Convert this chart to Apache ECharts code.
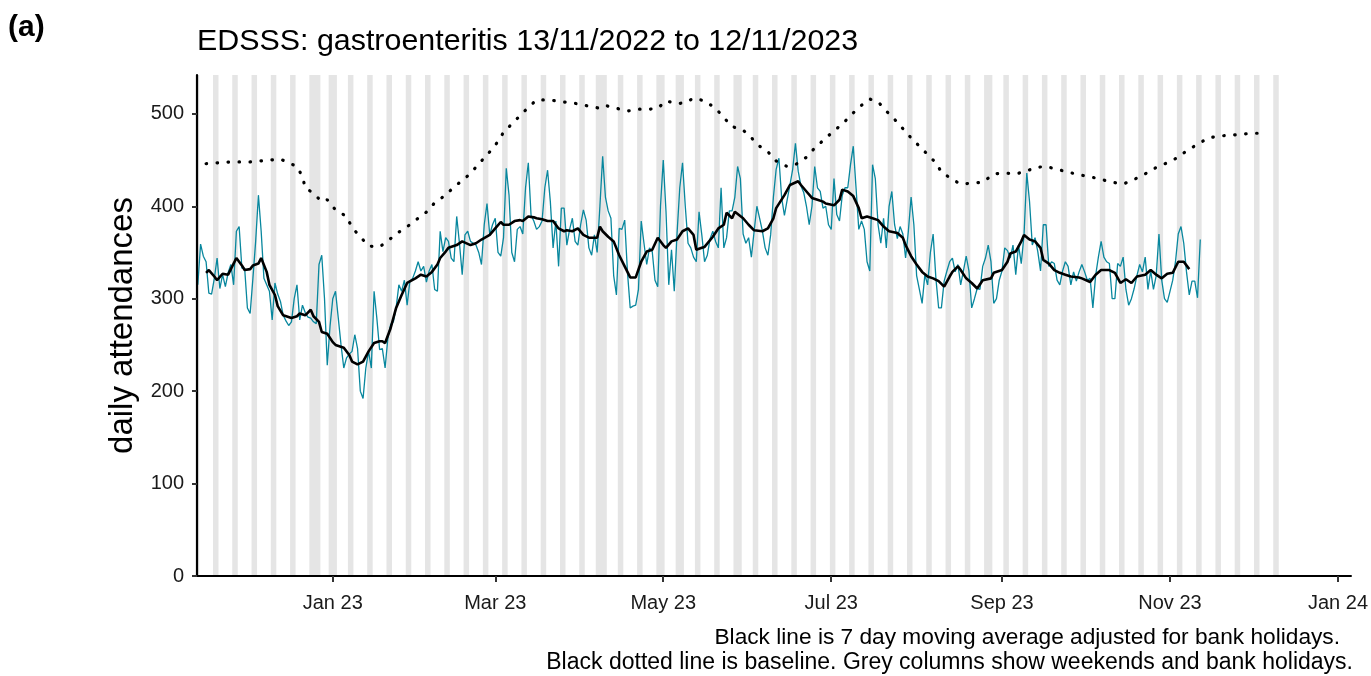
<!DOCTYPE html>
<html><head><meta charset="utf-8">
<script src="https://cdn.jsdelivr.net/npm/echarts@6/dist/echarts.min.js"></script>
<style>html,body{margin:0;padding:0;background:#fff}#c{width:1371px;height:676px}</style>
</head><body><div id="c"></div>
<script>
// ---- data ----
const startDate = '2022-11-13';
// daily attendances, one row per week (Sun..Sat) from 13/11/2022
const daily = [
 315,359,346,340,306,305,322,
 344,311,326,313,328,337,315,
 373,378,333,333,290,284,322,
 362,412,373,322,315,308,277,
 317,305,297,282,276,271,275,
 300,315,277,293,285,280,279,
 275,273,337,347,300,228,270,
 300,308,279,250,225,236,240,
 243,261,246,200,192,225,243,
 225,308,279,245,246,225,257,
 272,275,290,315,308,320,293,
 319,322,330,340,330,335,318,
 330,337,310,308,373,351,366,
 362,344,340,389,360,326,369,
 373,362,360,358,350,337,380,
 403,369,380,387,350,346,366,
 441,412,350,340,375,378,370,
 420,447,390,384,375,378,384,
 420,439,405,355,384,335,398,
 398,358,375,387,362,358,380,
 396,385,355,347,369,350,400,
 454,410,395,387,325,304,376,
 375,385,329,290,292,293,310,
 384,360,337,355,351,320,313,
 400,450,394,315,353,308,370,
 420,447,400,360,355,345,340,
 394,369,340,347,365,373,362,
 355,420,355,366,395,395,410,
 443,430,370,360,366,345,373,
 400,387,373,355,347,369,410,
 440,452,409,390,407,423,440,
 468,438,422,415,400,380,400,
 443,420,416,398,400,380,375,
 430,391,384,412,420,420,445,
 465,420,375,384,375,340,330,
 445,430,380,360,387,355,400,
 416,380,365,378,370,344,373,
 410,380,325,310,295,326,315,
 350,370,322,290,290,319,330,
 340,344,329,337,315,330,346,
 330,290,300,311,310,335,344,
 358,340,295,300,320,330,355,
 352,344,358,326,358,338,369,
 436,405,358,366,351,330,380,
 380,335,340,338,320,315,330,
 340,335,315,329,319,329,337,
 329,320,322,290,325,345,362,
 345,340,338,300,300,338,335,
 345,310,293,300,311,325,337,
 329,345,310,330,310,325,370,
 320,300,296,308,320,340,370,
 378,360,329,304,319,319,301,
 364
];
// 7 day moving average: [day offset from 01/01/2023, value]
const movingAverage = [
 [-46,328],[-45,331],[-43,324],[-42,320],[-40,327],[-38,326],[-36,338],[-35,344],[-33,336],[-32,331],
 [-30,332],[-29,336],[-27,338],[-26,344],[-24,329],[-23,315],[-21,304],[-20,292],[-18,282],[-15,279],
 [-13,281],[-12,284],[-10,282],[-8,288],[-7,281],[-5,275],[-4,264],[-2,262],[0,253],[1,250],
 [4,247],[6,239],[7,232],[9,229],[11,232],[13,243],[15,252],[17,254],[18,254],[19,252],
 [21,268],[23,290],[25,304],[27,317],[30,322],[32,326],[34,324],[36,329],[38,337],[39,344],
 [41,351],[42,355],[45,358],[47,362],[50,358],[52,360],[54,364],[57,369],[59,376],[61,383],
 [62,380],[64,380],[66,384],[68,385],[69,384],[71,389],[73,388],[74,387],[76,386],[78,384],
 [80,384],[82,376],[84,373],[85,374],[87,373],[89,376],[91,369],[93,366],[96,366],[97,378],
 [98,373],[100,367],[102,362],[104,347],[106,335],[108,323],[110,323],[112,340],[114,351],[116,353],
 [118,366],[120,358],[121,355],[123,362],[125,364],[127,373],[129,376],[131,369],[132,353],[134,355],
 [135,356],[138,367],[140,376],[142,380],[143,393],[145,387],[146,394],[149,387],[151,380],[153,374],
 [156,373],[158,376],[160,387],[161,398],[164,412],[166,423],[169,427],[170,423],[172,416],[174,409],
 [176,407],[178,405],[179,403],[182,401],[184,407],[185,418],[187,416],[189,411],[191,398],[192,387],
 [194,389],[196,387],[198,385],[200,378],[202,373],[205,371],[207,366],[208,358],[210,346],[212,337],
 [214,329],[216,324],[218,322],[220,319],[222,313],[224,324],[225,329],[227,335],[228,331],[230,322],
 [232,317],[234,311],[236,320],[239,322],[240,328],[243,331],[245,340],[246,349],[248,351],[250,362],
 [251,369],[253,364],[255,362],[257,355],[258,342],[260,338],[262,331],[264,328],[266,326],[268,324],
 [271,323],[272,322],[275,318],[277,326],[279,331],[282,331],[284,328],[286,317],[288,321],[290,317],
 [292,324],[295,326],[297,331],[299,326],[301,322],[303,327],[305,328],[307,340],[309,340],[311,332]
];
// baseline: [day offset from 01/01/2023, value]
const baseline = [
 [-46,446],[-37,448],[-30,448],[-19,451],[-13,443],[-11,432],[-10,420],[-7,414],[-4,405],[-2,407],
 [1,396],[5,389],[7,377],[10,367],[13,357],[17,356],[21,365],[24,372],[28,380],[31,387],
 [35,396],[37,404],[41,412],[44,421],[48,430],[51,439],[54,449],[57,459],[60,470],[62,480],
 [65,489],[68,498],[71,507],[74,515],[79,515],[83,513],[87,512],[90,510],[97,506],[99,509],
 [103,506],[107,503],[111,505],[115,505],[118,506],[121,514],[125,511],[128,512],[131,517],[135,514],
 [139,506],[142,496],[145,486],[148,484],[151,478],[154,467],[158,459],[161,449],[165,443],[168,445],
 [172,453],[175,463],[178,471],[181,479],[185,489],[188,498],[191,507],[195,516],[198,513],[201,503],
 [204,494],[207,484],[210,474],[213,465],[216,456],[219,447],[221,437],[225,429],[228,424],[232,425],
 [236,426],[240,435],[244,436],[248,435],[252,438],[255,442],[259,443],[263,440],[267,437],[271,434],
 [275,432],[279,429],[283,426],[287,424],[291,429],[295,435],[299,442],[303,447],[307,453],[310,460],
 [314,467],[318,474],[322,476],[327,477],[330,478],[334,479],[338,479]
];
const bankHolidays = ['2022-12-26','2022-12-27','2023-01-02','2023-04-07','2023-04-10','2023-05-01','2023-05-08','2023-05-29','2023-08-28'];
const shadeStart = '2022-11-13';
const shadeEnd = '2023-12-10';
const xTickDates = ['2023-01-01','2023-03-01','2023-05-01','2023-07-01','2023-09-01','2023-11-01','2024-01-01'];
const xTickLabels = ['Jan 23','Mar 23','May 23','Jul 23','Sep 23','Nov 23','Jan 24'];
const yTicks = [0,100,200,300,400,500];

// ---- helpers ----
const DAY = 86400000, ORIGIN = Date.UTC(2023,0,1);
function dayOf(s){const p=s.split('-').map(Number);return Math.round((Date.UTC(p[0],p[1]-1,p[2])-ORIGIN)/DAY);}
const d0 = dayOf(startDate);
const dailyData = daily.map((v,i)=>[d0+i, v]);
const bh = new Set(bankHolidays.map(dayOf));
const s0 = dayOf(shadeStart), s1 = dayOf(shadeEnd);
const shaded = [];
for (let d=s0; d<=s1; d++){ const dow=((d%7)+7)%7; if(dow===0||dow===6||bh.has(d)) shaded.push(d); }
const ranges = [];
shaded.forEach(d=>{ const last=ranges[ranges.length-1]; if(last && last[1]===d-1) last[1]=d; else ranges.push([d,d]); });
const xTickDays = xTickDates.map(dayOf);

const FONT = 'Liberation Sans, Arial, sans-serif';
const YMAX = 542;
const chart = echarts.init(document.getElementById('c'), null, {renderer:'canvas'});
chart.setOption({
  animation:false,
  backgroundColor:'#fff',
  title:[
    {text:'(a)', left:8, top:13, padding:0, textStyle:{fontFamily:FONT, fontWeight:'bold', fontSize:30, color:'#000'}},
    {text:'EDSSS: gastroenteritis 13/11/2022 to 12/11/2023', left:197, top:27, padding:0, textStyle:{fontFamily:FONT, fontWeight:'normal', fontSize:30.4, color:'#000'}},
    {text:'Black line is 7 day moving average adjusted for bank holidays.', right:31, top:626, padding:0, textStyle:{fontFamily:FONT, fontWeight:'normal', fontSize:22.7, color:'#000'}},
    {text:'Black dotted line is baseline. Grey columns show weekends and bank holidays.', right:18, top:651, padding:0, textStyle:{fontFamily:FONT, fontWeight:'normal', fontSize:23, color:'#000'}}
  ],
  grid:{left:197, right:19, top:75, bottom:100},
  xAxis:{
    type:'value', min:-49.3, max:369.7, z:10,
    axisLine:{show:true, onZero:false, lineStyle:{color:'#000', width:2.2}},
    axisTick:{show:true, customValues:xTickDays, length:6, lineStyle:{color:'#333', width:2}},
    axisLabel:{customValues:xTickDays, margin:17, fontFamily:FONT, fontSize:20, color:'#1a1a1a',
      formatter:(v)=>{const i=xTickDays.indexOf(Math.round(v));return i>=0?xTickLabels[i]:'';}},
    splitLine:{show:false}
  },
  yAxis:{
    type:'value', min:0, max:YMAX, z:10,
    name:'daily attendances', nameLocation:'middle', nameGap:56,
    nameTextStyle:{fontFamily:FONT, fontSize:33, color:'#000'},
    axisLine:{show:true, onZero:false, lineStyle:{color:'#000', width:2.2}},
    axisTick:{show:true, customValues:yTicks, length:5, lineStyle:{color:'#333', width:2}},
    axisLabel:{customValues:yTicks, margin:13, fontFamily:FONT, fontSize:20, color:'#1a1a1a'},
    splitLine:{show:false}
  },
  series:[
    {type:'custom', z:1, silent:true, clip:true, data:ranges,
     renderItem:(params, api)=>{
       const a=api.coord([api.value(0)-0.5, YMAX]); const b=api.coord([api.value(1)+0.5, 0]);
       return {type:'rect', shape:{x:a[0], y:a[1], width:b[0]-a[0], height:b[1]-a[1]}, style:{fill:'#E5E5E5'}};
     },
     encode:{x:[0,1]}},
    {type:'line', z:3, data:dailyData, showSymbol:false, silent:true,
     lineStyle:{color:'#08879E', width:1.3}},
    {type:'line', z:4, data:movingAverage, showSymbol:false, silent:true,
     lineStyle:{color:'#000', width:2.6}},
    {type:'line', z:4, data:baseline, showSymbol:false, silent:true,
     lineStyle:{color:'#000', width:3.2, type:[0.5,10.5], cap:'round'}}
  ]
});
</script></body></html>
